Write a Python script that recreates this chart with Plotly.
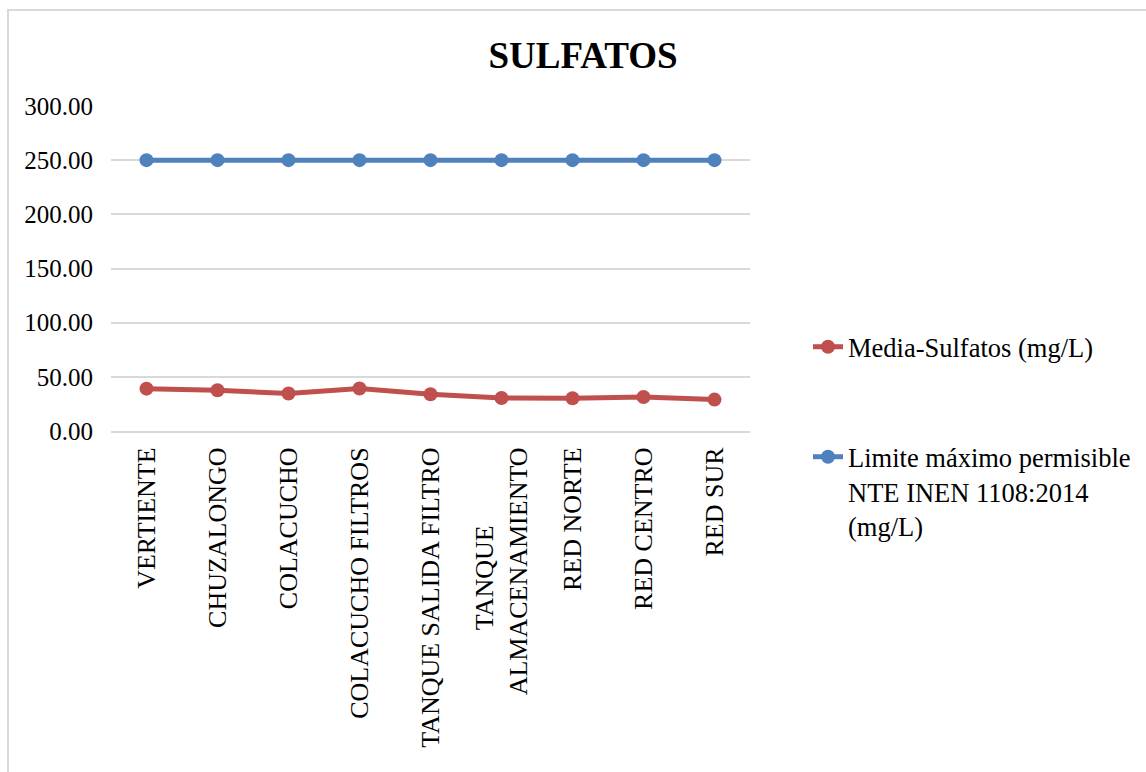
import plotly.graph_objects as go

categories = ["VERTIENTE", "CHUZALONGO", "COLACUCHO", "COLACUCHO FILTROS",
              "TANQUE SALIDA FILTRO",
              "TANQUE" + "&nbsp;" * 12 + "<br>ALMACENAMIENTO",
              "RED NORTE", "RED CENTRO", "RED SUR"]
media_sulfatos = [39.1, 37.6, 34.6, 39.2, 33.9, 30.5, 30.2, 31.4, 29.0]
limite_maximo = [250, 250, 250, 250, 250, 250, 250, 250, 250]
y_ticks = [0, 50, 100, 150, 200, 250, 300]

RED = "#C0504D"
BLUE = "#4F81BD"
FONT = "Liberation Serif"

W, H = 1146, 772
L, R, T, B = 111, 396, 106, 341
pw, ph = W - L - R, H - T - B

def px_x(x):
    return (x - L) / pw

def px_y(y):
    return (H - B - y) / ph

fig = go.Figure()
fig.add_trace(go.Scatter(
    x=categories, y=media_sulfatos, mode="lines+markers",
    name="Media-Sulfatos (mg/L)",
    line=dict(color=RED, width=5), marker=dict(color=RED, size=14),
    legend="legend"))
fig.add_trace(go.Scatter(
    x=categories, y=limite_maximo, mode="lines+markers",
    name="Limite máximo permisible<br>NTE INEN 1108:2014<br>(mg/L)",
    line=dict(color=BLUE, width=5), marker=dict(color=BLUE, size=14),
    legend="legend2"))

fig.update_layout(
    width=W, height=H,
    margin=dict(l=L, r=R, t=T, b=B, autoexpand=False),
    paper_bgcolor="white", plot_bgcolor="white",
    font=dict(family=FONT, size=25, color="black"),
    title=dict(text="<b>SULFATOS</b>", x=583 / W, xref="container",
               xanchor="center", y=1 - 55 / H, yref="container", yanchor="middle",
               font=dict(family=FONT, size=37, color="black")),
    legend=dict(x=px_x(808), y=px_y(347), xanchor="left", yanchor="middle",
                font=dict(family=FONT, size=26.5, color="black"),
                bgcolor="rgba(0,0,0,0)", borderwidth=0),
    legend2=dict(x=px_x(808), y=px_y(449 - 16), xanchor="left", yanchor="top",
                 font=dict(family=FONT, size=26.5, color="black"), valign="top",
                 bgcolor="rgba(0,0,0,0)", borderwidth=0),
    showlegend=True,
    xaxis=dict(type="category", showgrid=False, showline=True, linecolor="#D9D9D9",
               linewidth=2, tickangle=-90, ticks="outside", ticklen=4,
               tickcolor="rgba(0,0,0,0)", tickfont=dict(family=FONT, size=26),
               range=[-0.5, len(categories) - 0.5], fixedrange=True,
               automargin=False),
    yaxis=dict(range=[0, 300], tickvals=y_ticks, tickformat=".2f",
               showgrid=True, gridcolor="#D9D9D9", gridwidth=2,
               zeroline=False, showline=False, ticks="outside", ticklen=12,
               tickcolor="rgba(0,0,0,0)", tickfont=dict(family=FONT, size=25),
               automargin=False),
    shapes=[dict(type="rect", xref="paper", yref="paper",
                 x0=px_x(8), x1=px_x(1152), y0=px_y(790), y1=px_y(10),
                 line=dict(color="#D9D9D9", width=2), fillcolor="rgba(0,0,0,0)",
                 layer="below")],
)

fig.write_html("out.html")
